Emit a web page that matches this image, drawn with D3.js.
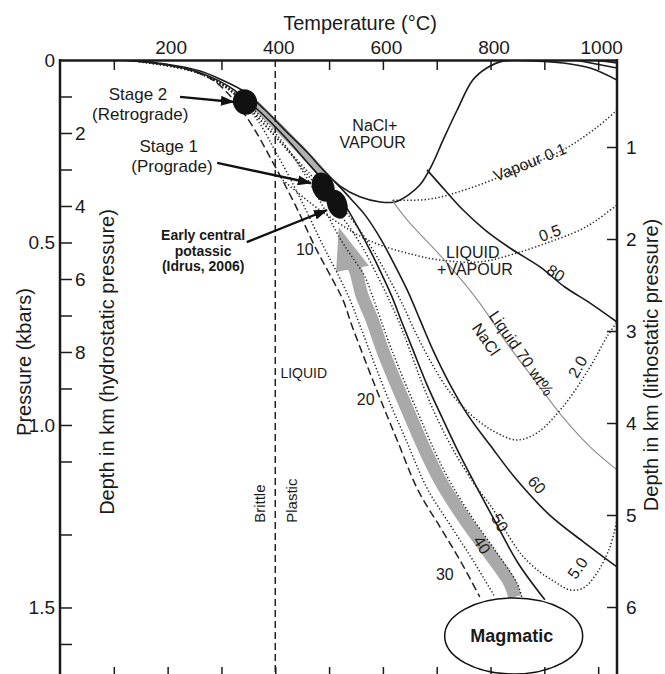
<!DOCTYPE html>
<html>
<head>
<meta charset="utf-8">
<script src="https://cdn.jsdelivr.net/npm/d3@7"></script>
<style>
  body { margin: 0; background: #fff; }
  text { font-family: Arial, "Liberation Sans", sans-serif; fill: #1a1a1a; }
</style>
</head>
<body>
<svg id="chart" width="665" height="674"></svg>
<script>
// temperature in °C, pressure in kbar
const topTicks = [100, 300, 500, 600, 700, 800, 900, 1000];
const topLabels = [200, 400, 600, 800, 1000];
const bottomTicks = [100, 200, 300, 400, 500, 600, 700, 800, 900, 1000];
const pressureLabels = [0, 0.5, 1.0, 1.5];
const hydroTicks = [1, 2, 3, 4, 5, 6, 7, 8, 9, 10, 11, 13, 15, 16];
const hydroLabels = [2, 4, 6, 8];
const lithoTicks = [1, 2, 3, 4, 5, 6];
const brittlePlastic = 400;

// three-phase boundary of NaCl+VAPOUR field
const threePhase = [[112,0],[195,.011],[260,.030],[297,.052],[344,.088],[381,.137],[418,.192],[459,.252],[489,.301],[520,.345],[557,.375],[595,.389],[622,.389],[647,.370],[669,.342],[691,.288],[712,.219],[738,.137],[767,.055],[793,.022],[823,.003],[886,.003],[934,.008],[985,.022],[1035,.055]];
const topRightA = [[957,0],[1035,.022]];
const topRightB = [[994,0],[1035,.008]];

// liquid isopleths (wt% NaCl)
const liq30 = [[121,0],[204,.014],[284,.055],[344,.151],[396,.282],[437,.397],[477,.521],[507,.603],[526,.658],[542,.726],[568,.827],[596,.932],[628,1.047],[665,1.178],[706,1.279],[743,1.370],[780,1.471]];
const liq20 = [[121,0],[223,.019],[297,.063],[357,.145],[407,.268],[448,.384],[490,.512],[518,.592],[539,.658],[557,.726],[583,.827],[611,.932],[643,1.041],[682,1.173],[725,1.274],[767,1.370],[808,1.471]];
const liq40 = [[121,0],[242,.027],[325,.088],[375,.159],[422,.241],[461,.329],[494,.416],[522,.493],[544,.542],[565,.589],[580,.644],[596,.712],[615,.789],[639,.877],[667,.973],[691,1.055],[723,1.151],[765,1.252],[808,1.342],[849,1.433],[858,1.471]];
const liq50 = [[121,0],[242,.027],[312,.071],[368,.137],[418,.211],[464,.288],[502,.351],[529,.397],[554,.460],[576,.521],[596,.581],[617,.649],[635,.718],[656,.795],[682,.890],[712,.986],[743,1.082],[777,1.178],[812,1.274],[851,1.378],[901,1.479]];
const liq60 = [[511,.334],[539,.378],[567,.425],[595,.488],[622,.562],[647,.636],[669,.712],[693,.795],[725,.890],[758,.973],[799,1.055],[849,1.151],[910,1.247],[975,1.323],[1035,1.389]];
const liq70 = [[617,.384],[645,.438],[719,.556],[780,.666],[830,.775],[886,.885],[934,.978],[985,1.060],[1035,1.123]];
const liq80 = [[682,.301],[715,.356],[749,.411],[790,.466],[836,.515],[892,.567],[938,.622],[985,.666],[1035,.718]];

// vapour isopleths (wt% NaCl)
const vap01 = [[619,.384],[687,.381],[762,.351],[849,.301],[934,.247],[998,.184],[1035,.137]];
const vap05 = [[414,.329],[470,.397],[515,.444],[557,.482],[595,.507],[645,.529],[706,.548],[780,.553],[842,.532],[905,.501],[966,.466],[998,.438],[1035,.397]];
const vap20 = [[121,0],[260,.038],[334,.104],[386,.186],[437,.268],[483,.342],[524,.405],[557,.466],[587,.534],[613,.603],[637,.671],[661,.748],[689,.827],[719,.899],[749,.951],[780,.992],[812,1.022],[849,1.041],[886,1.022],[934,.951],[985,.841],[1016,.759],[1035,.718]];
const vap50 = [[121,0],[251,.033],[320,.088],[375,.170],[425,.252],[468,.329],[505,.395],[539,.460],[567,.526],[589,.589],[609,.649],[630,.718],[650,.795],[674,.890],[702,.986],[736,1.082],[771,1.164],[803,1.227],[827,1.288],[858,1.356],[892,1.403],[920,1.430],[947,1.452],[972,1.447],[998,1.405],[1022,1.334],[1035,1.260]];

// P-T paths
const progradePath = [[845,1.471],[836,1.433],[793,1.342],[749,1.252],[706,1.151],[674,1.055],[650,.973],[622,.877],[598,.789],[580,.712],[561,.644],[550,.581],[542,.553]];
const progradeHead = [[518,.458],[513,.581],[574,.564]];
const retrogradePath = [[502,.337],[468,.279],[431,.222],[394,.167],[362,.121]];

const stageDots = [
  { t: 344, p: .115, rx: 12, ry: 13, rot: -30 },
  { t: 489, p: .348, rx: 11, ry: 15, rot: -20 },
  { t: 515, p: .395, rx: 10, ry: 15, rot: -20 }
];
const pointerArrows = [
  [[223, .101], [323, .115]],
  [[292, .282], [466, .337]],
  [[347, .499], [496, .411]]
];
const magmatic = { t: 843, p: 1.578 };

// [text, T, P, size, weight]
const notes = [
  ['Stage 2', 145, .110, 17, 'normal'],
  ['(Retrograde)', 149, .164, 17, 'normal'],
  ['Stage 1', 202, .252, 17, 'normal'],
  ['(Prograde)', 208, .307, 17, 'normal'],
  ['Early central', 266, .493, 14, 'bold'],
  ['potassic', 266, .537, 14, 'bold'],
  ['(Idrus, 2006)', 266, .578, 14, 'bold'],
  ['NaCl+', 585, .195, 16, 'normal'],
  ['VAPOUR', 581, .241, 16, 'normal'],
  ['LIQUID', 767, .542, 16, 'normal'],
  ['+VAPOUR', 771, .589, 16, 'normal'],
  ['LIQUID', 453, .871, 14, 'normal'],
  ['10', 455, .534, 16, 'normal'],
  ['20', 568, .945, 16, 'normal'],
  ['30', 715, 1.425, 16, 'normal']
];
// [text, T, P, rotate]
const isoLabels = [
  ['40', 784, 1.329, 57],
  ['50', 817, 1.268, 60],
  ['60', 886, 1.164, 48],
  ['80', 921, .584, 32],
  ['0.5', 910, .474, -20],
  ['2.0', 962, .841, -60],
  ['5.0', 962, 1.392, -55],
  ['Vapour 0.1', 873, .280, -22]
];

const svg = d3.select('#chart');
const x = d3.scaleLinear().domain([0, 1035]).range([60, 617]);
const y = d3.scaleLinear().domain([0, 1.685]).range([60, 675]);
const yHydro = d3.scaleLinear().domain([0, 16.85]).range([60, 675]);
const yLitho = d3.scaleLinear().domain([0, 6]).range([55, 607]);

svg.append('rect').attr('width', 665).attr('height', 674).attr('fill', '#fff');

const defs = svg.append('defs');
defs.append('clipPath').attr('id', 'plot')
  .append('rect').attr('x', 60).attr('y', 60).attr('width', 557).attr('height', 615);
defs.append('marker')
  .attr('id', 'head')
  .attr('markerUnits', 'userSpaceOnUse')
  .attr('markerWidth', 14).attr('markerHeight', 10)
  .attr('refX', 13).attr('refY', 5)
  .attr('orient', 'auto')
  .append('path').attr('d', 'M0,0 L14,5 L0,10 Z').attr('fill', '#111');

const line = d3.line()
  .x(d => x(d[0]))
  .y(d => y(d[1]))
  .curve(d3.curveCatmullRom.alpha(0.5));

const plot = svg.append('g').attr('clip-path', 'url(#plot)');

// grey P-T paths under the phase lines
plot.append('path').attr('d', line(progradePath))
  .attr('fill', 'none').attr('stroke', '#a9a9a9').attr('stroke-width', 13);
plot.append('path').attr('d', d3.line().x(d => x(d[0])).y(d => y(d[1]))(progradeHead) + 'Z')
  .attr('fill', '#a9a9a9');
plot.append('path').attr('d', line(retrogradePath))
  .attr('fill', 'none').attr('stroke', '#b0b0b0').attr('stroke-width', 9);

// brittle / plastic transition
plot.append('line')
  .attr('x1', x(brittlePlastic)).attr('x2', x(brittlePlastic))
  .attr('y1', y(0)).attr('y2', 675)
  .attr('stroke', '#222').attr('stroke-width', 1.5).attr('stroke-dasharray', '7,4');

const solid = { stroke: '#1a1a1a', width: 1.6, dash: null };
const dotted = { stroke: '#222', width: 1.5, dash: '1.3,2.2' };
const dashed = { stroke: '#222', width: 1.5, dash: '8,4' };
const thinGrey = { stroke: '#8c8c8c', width: 1.1, dash: null };

const curves = [
  [threePhase, solid], [topRightA, solid], [topRightB, solid],
  [liq30, dashed], [liq20, dotted], [liq40, dotted],
  [liq50, solid], [liq60, solid], [liq70, thinGrey], [liq80, solid],
  [vap01, dotted], [vap05, dotted], [vap20, dotted], [vap50, dotted]
];
curves.forEach(([pts, st]) => {
  plot.append('path')
    .attr('d', line(pts))
    .attr('fill', 'none')
    .attr('stroke', st.stroke)
    .attr('stroke-width', st.width)
    .attr('stroke-dasharray', st.dash);
});

// black stage dots
svg.selectAll('.dot')
  .data(stageDots)
  .enter()
  .append('ellipse')
  .attr('class', 'dot')
  .attr('transform', d => `translate(${x(d.t)},${y(d.p)}) rotate(${d.rot})`)
  .attr('rx', d => d.rx).attr('ry', d => d.ry)
  .attr('fill', '#111');

// pointer arrows
pointerArrows.forEach(a => {
  svg.append('line')
    .attr('x1', x(a[0][0])).attr('y1', y(a[0][1]))
    .attr('x2', x(a[1][0])).attr('y2', y(a[1][1]))
    .attr('stroke', '#111').attr('stroke-width', 2.4)
    .attr('marker-end', 'url(#head)');
});

// magmatic
svg.append('ellipse')
  .attr('cx', x(magmatic.t)).attr('cy', y(magmatic.p))
  .attr('rx', 69).attr('ry', 38)
  .attr('fill', '#fff').attr('stroke', '#111').attr('stroke-width', 1.5);
svg.append('text')
  .attr('x', x(magmatic.t) - 2).attr('y', y(magmatic.p))
  .attr('text-anchor', 'middle').attr('dominant-baseline', 'central')
  .style('font-size', '18px').style('font-weight', 'bold')
  .text('Magmatic');

// axes
svg.append('g').attr('transform', 'translate(0,60)')
  .call(d3.axisTop(x).tickValues(topTicks).tickSize(-10).tickSizeOuter(0).tickFormat(''));
svg.append('g').attr('transform', 'translate(3,60)')
  .call(d3.axisTop(x).tickValues(topLabels).tickSize(0).tickPadding(6).tickFormat(d => String(d)))
  .call(g => g.select('.domain').remove());
svg.append('g').attr('transform', 'translate(0,675)')
  .call(d3.axisTop(x).tickValues(bottomTicks).tickSize(8).tickSizeOuter(0).tickFormat(''));
svg.append('g').attr('transform', 'translate(60,0)')
  .call(d3.axisLeft(y).tickValues(pressureLabels).tickSize(0).tickPadding(5)
    .tickFormat(d => d === 0 ? '0' : d.toFixed(1)))
  .call(g => g.select('.domain').remove());
svg.append('g').attr('transform', 'translate(60,0)')
  .call(d3.axisRight(yHydro).tickValues(hydroTicks).tickSize(12).tickSizeOuter(0).tickPadding(3)
    .tickFormat(d => hydroLabels.includes(d) ? String(d) : ''))
  .call(g => g.select('.domain').remove());
svg.append('g').attr('transform', 'translate(617,0)')
  .call(d3.axisLeft(yLitho).tickValues(lithoTicks).tickSize(10).tickFormat(''))
  .call(g => g.select('.domain').remove());
svg.append('g').attr('transform', 'translate(617,0)')
  .call(d3.axisRight(yLitho).tickValues(lithoTicks).tickSize(0).tickPadding(9).tickFormat(d => String(d)))
  .call(g => g.select('.domain').remove());

svg.selectAll('.tick text').style('font-size', '19px').attr('fill', '#1a1a1a');
svg.selectAll('.tick line').attr('stroke', '#1a1a1a').attr('stroke-width', 1.5);
svg.selectAll('.domain').attr('stroke', '#1a1a1a').attr('stroke-width', 2.5);

// frame lines
svg.append('line').attr('x1', 60).attr('x2', 60).attr('y1', 59).attr('y2', 675)
  .attr('stroke', '#1a1a1a').attr('stroke-width', 2.5);
svg.append('line').attr('x1', 617).attr('x2', 617).attr('y1', 59).attr('y2', 675)
  .attr('stroke', '#1a1a1a').attr('stroke-width', 2.5);

// axis titles
svg.append('text').attr('x', 360).attr('y', 30).attr('text-anchor', 'middle')
  .style('font-size', '20px').text('Temperature (°C)');
svg.append('text').attr('transform', 'translate(31,362) rotate(-90)').attr('text-anchor', 'middle')
  .style('font-size', '20px').text('Pressure (kbars)');
svg.append('text').attr('transform', 'translate(114,362) rotate(-90)').attr('text-anchor', 'middle')
  .style('font-size', '20px').text('Depth in km (hydrostatic pressure)');
svg.append('text').attr('transform', 'translate(658,365) rotate(-90)').attr('text-anchor', 'middle')
  .style('font-size', '20px').text('Depth in km (lithostatic pressure)');

// annotations
notes.forEach(n => {
  svg.append('text')
    .attr('x', x(n[1])).attr('y', y(n[2]))
    .attr('text-anchor', 'middle')
    .style('font-size', n[3] + 'px').style('font-weight', n[4])
    .text(n[0]);
});
isoLabels.forEach(n => {
  svg.append('text')
    .attr('transform', `translate(${x(n[1])},${y(n[2])}) rotate(${n[3]})`)
    .attr('text-anchor', 'middle').attr('dominant-baseline', 'central')
    .style('font-size', '16px')
    .text(n[0]);
});

const liqLabel = svg.append('g')
  .attr('transform', `translate(${x(827)},${y(.742)}) rotate(55)`);
liqLabel.append('text').attr('x', -22).attr('y', 5).style('font-size', '16px').text('Liquid 70 wt%');
liqLabel.append('text').attr('x', -4).attr('y', 26).attr('text-anchor', 'middle').style('font-size', '16px').text('NaCl');

svg.append('text').attr('transform', `translate(${x(381)},${y(1.268)}) rotate(-90)`)
  .style('font-size', '15px').text('Brittle');
svg.append('text').attr('transform', `translate(${x(440)},${y(1.268)}) rotate(-90)`)
  .style('font-size', '15px').text('Plastic');
</script>
</body>
</html>
